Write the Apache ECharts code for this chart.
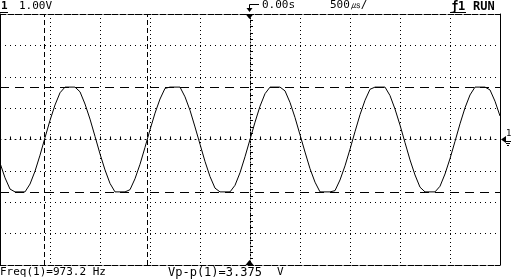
<!DOCTYPE html>
<html><head><meta charset="utf-8">
<script src="https://cdn.jsdelivr.net/npm/echarts@6.0.0/dist/echarts.min.js"></script>
<style>html,body{margin:0;padding:0;background:#fff}#c{width:512px;height:280px}</style>
</head><body><div id="c"></div>
<script>
// Time base: 500 us/div, 10 divisions, trigger at 0.00 s (centre)
const timeStartMs = -2.5;
const timeStepMs = 0.05;
// Channel 1 samples (V), every 50 us
const voltsCh1 = [
 -0.75, -1.22, -1.58, -1.67, -1.67, -1.67, -1.42, -1.01, -0.50, 0.06,
  0.61,  1.10,  1.49,  1.67,  1.67,  1.67,  1.52,  1.13,  0.65, 0.10,
 -0.46, -0.97, -1.40, -1.67, -1.67, -1.67, -1.60, -1.25, -0.79, -0.25,
  0.31,  0.84,  1.29,  1.63,  1.67,  1.67,  1.67,  1.36,  0.93, 0.40,
 -0.15, -0.70, -1.18, -1.55, -1.67, -1.67, -1.67, -1.46, -1.06, -0.55,
  0.00,
  0.55,  1.06,  1.46,  1.67,  1.67,  1.67,  1.55,  1.18,  0.70, 0.15,
 -0.40, -0.93, -1.36, -1.67, -1.67, -1.67, -1.63, -1.29, -0.84, -0.31,
  0.25,  0.79,  1.25,  1.60,  1.67,  1.67,  1.67,  1.40,  0.97, 0.46,
 -0.10, -0.65, -1.13, -1.52, -1.67, -1.67, -1.67, -1.49, -1.10, -0.61,
 -0.06,  0.50,  1.01,  1.42,  1.67,  1.67,  1.67,  1.58,  1.22, 0.75
];
const timeRangeMs = [-2.5, 2.5];
const timeDivMs = 0.5;
const voltRange = [-4, 4];
const voltDiv = 1;
const cursorTimesMs = [-2.055, -1.0275];
const cursorVolts = [1.673, -1.673];
const channelLabel = '1';
const scaleLabel = '1.00V';
const delayLabel = '0.00s';
const timebaseLabel = '500\u33B2/';
const runLabel = 'RUN';
const freqLabel = 'Freq(1)=973.2 Hz';
const vppLabel = 'Vp-p(1)=3.375';
const vppUnit = 'V';

const traceData = voltsCh1.map((v, i) => [+(timeStartMs + i * timeStepMs).toFixed(4), v]);

const K = '#000';
const FONT = '11px "DejaVu Sans Mono", monospace';
const BFONT = 'bold 11px "DejaVu Sans Mono", monospace';
const hide = {show: false};

function txt(text, x, y, font) {
  return {type: 'text', x, y, silent: true,
    style: {text, font: font || FONT, fill: K, textVerticalAlign: 'top', verticalAlign: 'top'}};
}

const chart = echarts.init(document.getElementById('c'), null, {renderer: 'canvas'});
chart.setOption({
  animation: false,
  backgroundColor: '#fff',
  grid: {left: 0, right: 12, top: 14, bottom: 15, show: false},
  xAxis: [
    {type: 'value', min: timeRangeMs[0], max: timeRangeMs[1], interval: timeDivMs, position: 'bottom',
     axisLine: {onZero: false, lineStyle: {color: K, width: 1, type: [6, 2]}},
     axisTick: hide, axisLabel: hide,
     splitLine: {show: true, lineStyle: {color: K, width: 1, type: [1, 3]}}},
    {type: 'value', min: timeRangeMs[0], max: timeRangeMs[1], interval: timeDivMs, position: 'top',
     axisLine: {onZero: false, lineStyle: {color: K, width: 1, type: [6, 2]}},
     axisTick: hide, axisLabel: hide, splitLine: hide},
    {type: 'value', min: timeRangeMs[0], max: timeRangeMs[1], interval: timeDivMs, position: 'bottom',
     axisLine: {onZero: true, onZeroAxisIndex: 0, lineStyle: {color: K, width: 1, type: [1, 4]}},
     axisTick: {show: true, inside: true, length: 3, lineStyle: {color: K}},
     minorTick: {show: true, splitNumber: 5, length: 3, lineStyle: {color: K}},
     axisLabel: hide, splitLine: hide}
  ],
  yAxis: [
    {type: 'value', min: voltRange[0], max: voltRange[1], interval: voltDiv, position: 'left',
     axisLine: {onZero: false, lineStyle: {color: K, width: 1}},
     axisTick: hide, axisLabel: hide,
     splitLine: {show: true, lineStyle: {color: K, width: 1, type: [1, 4]}}},
    {type: 'value', min: voltRange[0], max: voltRange[1], interval: voltDiv, position: 'right',
     axisLine: {onZero: false, lineStyle: {color: K, width: 1}},
     axisTick: hide, axisLabel: hide, splitLine: hide},
    {type: 'value', min: voltRange[0], max: voltRange[1], interval: voltDiv, position: 'left',
     axisLine: {onZero: true, onZeroAxisIndex: 0, lineStyle: {color: K, width: 1, type: [1, 2]}},
     axisTick: {show: true, inside: true, length: 3, lineStyle: {color: K}},
     minorTick: {show: true, splitNumber: 5, length: 3, lineStyle: {color: K}},
     axisLabel: hide, splitLine: hide}
  ],
  series: [{
    type: 'line', xAxisIndex: 0, yAxisIndex: 0, data: traceData,
    showSymbol: false, smooth: false, silent: true,
    lineStyle: {color: K, width: 1},
    markLine: {
      symbol: 'none', silent: true, label: hide, animation: false,
      lineStyle: {color: K, width: 1},
      data: [
        ...cursorTimesMs.map(t => ({xAxis: t, lineStyle: {color: K, width: 1, type: [5, 3]}})),
        ...cursorVolts.map(v => ({yAxis: v, lineStyle: {color: K, width: 1, type: [9, 6]}}))
      ]
    }
  }],
  graphic: [
    txt(channelLabel, 1, 1, BFONT),
    {type: 'line', silent: true, shape: {x1: 0, y1: 12.5, x2: 8, y2: 12.5}, style: {stroke: K, lineWidth: 1}},
    txt(scaleLabel, 19, 1),
    {type: 'polyline', silent: true, shape: {points: [[249.5, 11], [249.5, 4.5], [259, 4.5]]}, style: {stroke: K, lineWidth: 1, fill: null}},
    {type: 'polygon', silent: true, shape: {points: [[246.5, 8], [252.5, 8], [249.5, 12]]}, style: {fill: K}},
    txt(delayLabel, 262, 0),
    txt(timebaseLabel, 330, 0),
    txt('\u0192', 451, 1, 'bold 12px "DejaVu Sans Mono", monospace'),
    txt(channelLabel, 458, 1, 'bold 12px "DejaVu Sans Mono", monospace'),
    {type: 'line', silent: true, shape: {x1: 450, y1: 12.5, x2: 466, y2: 12.5}, style: {stroke: K, lineWidth: 1}},
    txt(runLabel, 473, 1, 'bold 12px "DejaVu Sans Mono", monospace'),
    {type: 'polygon', silent: true, shape: {points: [[245.5, 14], [253.5, 14], [249.5, 19]]}, style: {fill: K}},
    {type: 'polygon', silent: true, shape: {points: [[245.5, 265], [253.5, 265], [249.5, 260]]}, style: {fill: K}},
    {type: 'polygon', silent: true, shape: {points: [[501, 139.5], [506, 136], [506, 143]]}, style: {fill: K}},
    {type: 'text', x: 506, y: 129, silent: true, style: {text: '1', font: '9px "DejaVu Sans Mono", monospace', fill: K}},
    {type: 'line', silent: true, shape: {x1: 505, y1: 141.5, x2: 511, y2: 141.5}, style: {stroke: K, lineWidth: 1}},
    {type: 'line', silent: true, shape: {x1: 506, y1: 143.5, x2: 510, y2: 143.5}, style: {stroke: K, lineWidth: 1}},
    {type: 'line', silent: true, shape: {x1: 507, y1: 145.5, x2: 509, y2: 145.5}, style: {stroke: K, lineWidth: 1}},
    txt(freqLabel, 0, 267),
    txt(vppLabel, 168, 267, '12px "DejaVu Sans Mono", monospace'),
    txt(vppUnit, 277, 267)
  ]
});
</script>
</body></html>
